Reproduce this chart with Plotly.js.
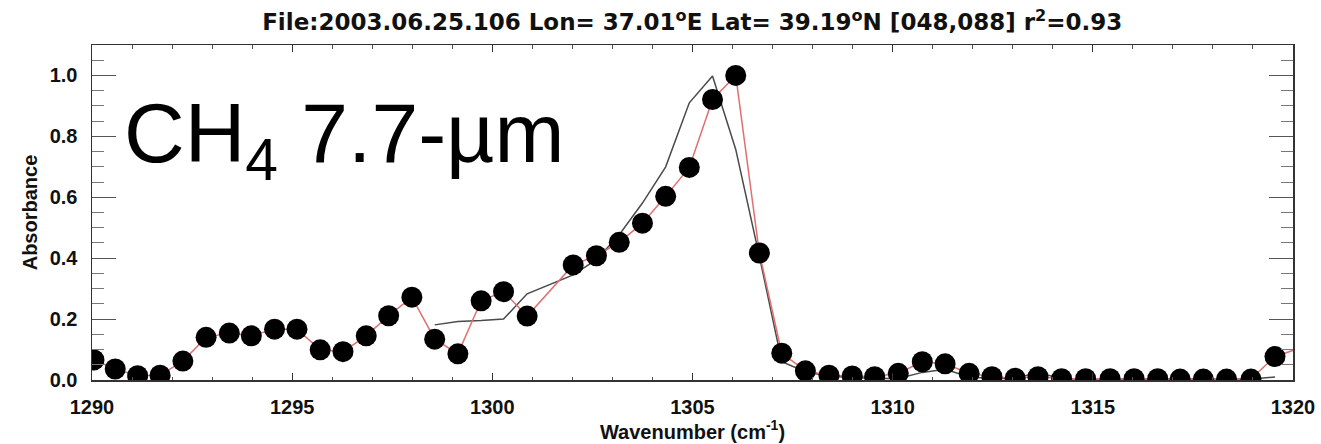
<!DOCTYPE html>
<html>
<head>
<meta charset="utf-8">
<script src="https://cdn.plot.ly/plotly-3.0.1.min.js"></script>
<style>html,body{margin:0;padding:0;background:#fff;}#chart{width:1321px;height:444px;}</style>
</head>
<body>
<div id="chart"></div>
<script>
const obsWavenumber = [1290.05, 1290.58, 1291.14, 1291.70, 1292.27, 1292.85, 1293.43, 1293.98, 1294.56, 1295.12,
  1295.70, 1296.27, 1296.85, 1297.41, 1297.99, 1298.56, 1299.14, 1299.72, 1300.28, 1300.87,
  1302.02, 1302.60, 1303.17, 1303.75, 1304.33, 1304.92, 1305.50, 1306.08, 1306.67, 1307.23,
  1307.82, 1308.41, 1308.99, 1309.55, 1310.14, 1310.74, 1311.31, 1311.91, 1312.48, 1313.06,
  1313.63, 1314.22, 1314.82, 1315.43, 1316.03, 1316.62, 1317.18, 1317.76, 1318.34, 1318.95,
  1319.55, 1320.13];
const obsAbsorbance = [0.066, 0.036, 0.014, 0.016, 0.062, 0.140, 0.154, 0.145, 0.167, 0.167,
  0.099, 0.093, 0.145, 0.211, 0.272, 0.134, 0.086, 0.260, 0.290, 0.210,
  0.378, 0.408, 0.452, 0.515, 0.603, 0.698, 0.921, 1.000, 0.417, 0.088,
  0.030, 0.016, 0.013, 0.011, 0.022, 0.060, 0.053, 0.022, 0.011, 0.006,
  0.011, 0.004, 0.004, 0.004, 0.004, 0.004, 0.003, 0.003, 0.003, 0.003,
  0.077, 0.103];
// Model (fitted) spectrum
const modelWavenumber = [1298.56, 1299.14, 1299.72, 1300.28, 1300.87, 1302.02, 1302.60, 1303.17, 1303.75, 1304.33,
  1304.92, 1305.50, 1306.08, 1306.67, 1307.23, 1307.82, 1308.41, 1308.99, 1309.55, 1310.14,
  1310.74, 1311.31, 1311.91, 1312.48, 1313.06, 1313.63, 1314.22, 1314.82, 1315.43, 1316.03,
  1316.62, 1317.18, 1317.76, 1318.34, 1318.95, 1319.55];
const modelAbsorbance = [0.181, 0.192, 0.195, 0.200, 0.283, 0.345, 0.395, 0.477, 0.581, 0.700,
  0.910, 0.998, 0.757, 0.406, 0.060, 0.027, 0.012, 0.008, 0.005, 0.005,
  0.025, 0.035, 0.010, 0.005, 0.005, 0.025, 0.003, 0.003, 0.003, 0.003,
  0.003, 0.003, 0.003, 0.003, 0.003, 0.010];
const xTicks = [1290, 1295, 1300, 1305, 1310, 1315, 1320];
const yTicks = [0.0, 0.2, 0.4, 0.6, 0.8, 1.0];
const titleText = 'File:2003.06.25.106 Lon= 37.01<sup>o</sup>E Lat= 39.19<sup>o</sup>N [048,088] r<sup>2</sup>=0.93';
const bandLabel = 'CH<sub>4</sub> 7.7-µm';

const xMin = 1290, xMax = 1320;
const markX = [], markY = [];
obsWavenumber.forEach((w, i) => { if (w >= xMin && w <= xMax) { markX.push(w); markY.push(obsAbsorbance[i]); } });

const boldFont = {family: 'Liberation Sans, Arial, sans-serif', size: 20, color: '#111'};

const traces = [
  {x: modelWavenumber, y: modelAbsorbance, mode: 'lines', line: {color: '#4a4a4a', width: 1.5}, hoverinfo: 'skip'},
  {x: obsWavenumber, y: obsAbsorbance, mode: 'lines', line: {color: '#e07070', width: 1.5}, hoverinfo: 'skip'},
  {x: markX, y: markY, mode: 'markers', marker: {color: '#000', size: 21}, cliponaxis: true}
];

const layout = {
  width: 1321, height: 444,
  margin: {l: 92, r: 28, t: 45, b: 64},
  paper_bgcolor: '#fff', plot_bgcolor: '#fff',
  showlegend: false,
  font: {family: 'Liberation Sans, Arial, sans-serif', color: '#111'},
  title: {text: '<b>' + titleText + '</b>', font: {family: 'DejaVu Sans, sans-serif', size: 23, color: '#111'},
    x: 0.524, xanchor: 'center', y: 0.95, yanchor: 'middle', yref: 'container'},
  xaxis: {
    range: [xMin, xMax], tickvals: xTicks, ticktext: xTicks.map(v => '<b>' + v + '</b>'),
    ticks: 'inside', ticklen: 7, tickwidth: 1, tickcolor: '#333', ticklabelstandoff: 8,
    mirror: 'allticks', showline: true, linecolor: '#333', linewidth: 1.5,
    showgrid: false, zeroline: false, tickfont: boldFont,
    minor: {dtick: 1, ticks: 'inside', ticklen: 3.5, tickcolor: '#555', tickwidth: 1},
    title: {text: '<b>Wavenumber (cm<sup>-1</sup>)</b>', font: boldFont, standoff: 2}
  },
  yaxis: {
    range: [0, 1.1], tickvals: yTicks, ticktext: yTicks.map(v => '<b>' + v.toFixed(1) + '</b>'),
    ticks: 'inside', ticklen: 24, tickwidth: 1, tickcolor: '#555', ticklabelstandoff: 9,
    mirror: 'allticks', showline: true, linecolor: '#333', linewidth: 1.5,
    showgrid: false, zeroline: false, tickfont: boldFont,
    minor: {dtick: 0.05, ticks: 'inside', ticklen: 12, tickcolor: '#777', tickwidth: 1},
    title: {text: '<b>Absorbance</b>', font: boldFont, standoff: 6}
  },
  annotations: [{
    text: bandLabel, xref: 'paper', yref: 'paper', x: 0.025, y: 0.72,
    xanchor: 'left', yanchor: 'middle', showarrow: false,
    font: {family: 'Liberation Sans, Arial, sans-serif', size: 84, color: '#000'}
  }]
};

Plotly.newPlot('chart', traces, layout, {staticPlot: true, displayModeBar: false});
</script>
</body>
</html>
